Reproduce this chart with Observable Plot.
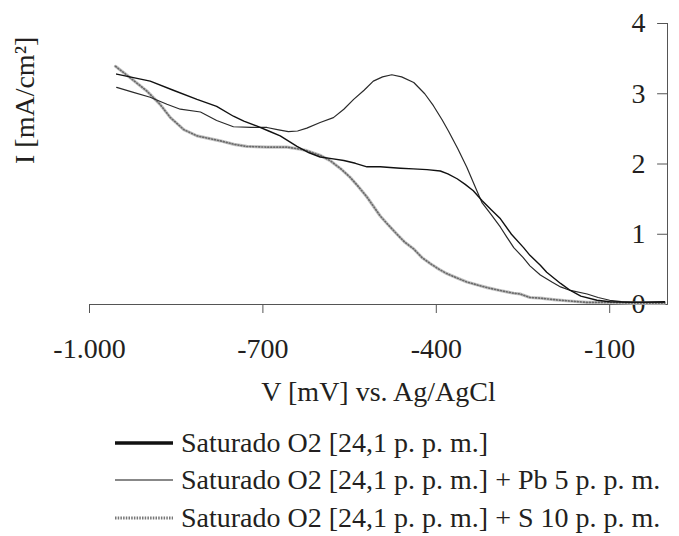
<!DOCTYPE html>
<html>
<head>
<meta charset="utf-8">
<script src="https://cdn.jsdelivr.net/npm/d3@7"></script>
<script src="https://cdn.jsdelivr.net/npm/@observablehq/plot@0.6"></script>
<style>
  body { margin: 0; background: #fff; }
  #chart svg text { font-family: "Liberation Serif", serif !important; font-variant: normal !important; }
  #legend { font-family: "Liberation Serif", serif; font-size: 28px; color: #231f20; margin-top: 14px; padding-left: 115px; }
  .row { display: flex; align-items: center; height: 37.5px; white-space: nowrap; }
  .row svg { margin-right: 8px; }
</style>
</head>
<body>
<div id="chart"></div>
<div id="legend"></div>
<script>
// Series names
const seriesNames = [
  "Saturado O2 [24,1 p. p. m.]",
  "Saturado O2 [24,1 p. p. m.] + Pb 5 p. p. m.",
  "Saturado O2 [24,1 p. p. m.] + S 10 p. p. m."
];

// Series 1: O2 only (plateau curve)
const o2V = [-953,-924,-895,-855,-814,-780,-751,-733,-710,-690,-670,-641,-620,-601,-584,-560,-540,-520,-497,-480,-462,-440,-416,-393,-380,-364,-350,-336,-321,-305,-289,-270,-249,-238,-220,-209,-185,-168,-150,-122,-100,-64,-5];
const o2I = [3.28,3.23,3.18,3.05,2.92,2.82,2.68,2.61,2.54,2.47,2.40,2.25,2.16,2.10,2.08,2.05,2.01,1.96,1.96,1.95,1.94,1.93,1.92,1.90,1.86,1.79,1.71,1.62,1.48,1.35,1.22,1.00,0.81,0.70,0.56,0.46,0.30,0.20,0.12,0.06,0.04,0.03,0.04];

// Series 2: O2 + Pb (peak curve)
const pbV = [-953,-924,-895,-866,-843,-808,-780,-751,-720,-693,-675,-656,-640,-624,-601,-578,-560,-543,-525,-509,-493,-477,-460,-439,-420,-405,-390,-379,-363,-347,-335,-321,-305,-289,-278,-266,-250,-238,-220,-200,-185,-168,-139,-120,-100,-80,-40,-5];
const pbI = [3.09,3.02,2.95,2.85,2.78,2.74,2.62,2.53,2.52,2.52,2.49,2.46,2.47,2.51,2.59,2.66,2.78,2.92,3.05,3.18,3.24,3.27,3.24,3.16,3.00,2.83,2.63,2.47,2.22,1.95,1.72,1.45,1.28,1.10,0.96,0.81,0.67,0.55,0.42,0.32,0.25,0.20,0.15,0.10,0.06,0.04,0.03,0.03];

// Series 3: O2 + S (dotted curve)
const sV = [-955,-930,-901,-878,-860,-845,-837,-814,-774,-750,-728,-693,-658,-635,-624,-600,-584,-565,-549,-535,-520,-497,-485,-468,-455,-439,-425,-410,-395,-382,-365,-347,-330,-312,-290,-266,-255,-238,-220,-197,-170,-139,-100,-60,-5];
const sI = [3.39,3.23,3.04,2.85,2.66,2.55,2.49,2.40,2.33,2.28,2.25,2.24,2.24,2.21,2.19,2.12,2.05,1.93,1.81,1.68,1.53,1.26,1.15,1.00,0.89,0.79,0.67,0.58,0.50,0.44,0.38,0.32,0.28,0.24,0.20,0.16,0.15,0.10,0.09,0.07,0.05,0.03,0.03,0.02,0.02];

const xTicks = [-1000, -700, -400, -100];
const yTicks = [0, 1, 2, 3, 4];
const xLabel = "V [mV] vs. Ag/AgCl";
const yLabel = "I [mA/cm²]";

const toRows = (V, I, s) => V.map((v, i) => ({v, i: I[i], s}));
const o2 = toRows(o2V, o2I, seriesNames[0]);
const pb = toRows(pbV, pbI, seriesNames[1]);
const sd = toRows(sV, sI, seriesNames[2]);

const loc = d3.formatLocale({decimal: ",", thousands: ".", grouping: [3], currency: ["", ""], minus: "-"});
const fmt = loc.format(",d");
const ink = "#231f20";
const serif = "Liberation Serif";
const tickShape = {draw(context, l) { context.moveTo(0, 0); context.lineTo(0, -l); }};

const plot = Plot.plot({
  width: 679,
  height: 410,
  marginLeft: 89,
  marginRight: 12,
  marginTop: 23,
  marginBottom: 106,
  style: {fontFamily: serif, fontSize: "28px", color: ink, background: "#fff"},
  x: {domain: [-1000, 0]},
  y: {domain: [0, 4], axis: null},
  marks: [
    Plot.ruleY([0], {stroke: "#555", strokeWidth: 1}),
    Plot.ruleX([0], {stroke: "#555", strokeWidth: 1}),
    Plot.axisX({ticks: xTicks, tickSize: 9, tickPadding: 25, tickFormat: fmt, label: null, stroke: "#555", fill: ink}),
    Plot.vector(yTicks, {y: d => d, frameAnchor: "right", length: 10, rotate: -90, anchor: "start", shape: tickShape, stroke: "#555", strokeWidth: 1}),
    Plot.text(yTicks, {y: d => d, text: d => String(d), frameAnchor: "right", dx: -22, textAnchor: "end", fill: ink}),
    Plot.line(sd, {x: "v", y: "i", stroke: "#c4c4c4", strokeWidth: 3.2}),
    Plot.line(sd, {x: "v", y: "i", stroke: "#6a6a6a", strokeWidth: 1.6, strokeDasharray: "1,2"}),
    Plot.line(pb, {x: "v", y: "i", stroke: "#2a2a2a", strokeWidth: 1.2}),
    Plot.line(o2, {x: "v", y: "i", stroke: "#111", strokeWidth: 1.4}),
    Plot.text([xLabel], {text: d => d, frameAnchor: "bottom", dy: 88, lineAnchor: "middle", fill: ink}),
    Plot.text([yLabel], {text: d => d, frameAnchor: "left", dx: -64, rotate: -90, fill: ink})
  ]
});
document.getElementById("chart").appendChild(plot);

// Legend
const swatches = [
  {stroke: "#111", width: 3.5, dash: null},
  {stroke: "#888", width: 2, dash: null},
  {stroke: "#777", width: 3, dash: "1.5,1.2"}
];
const legend = document.getElementById("legend");
seriesNames.forEach((name, k) => {
  const row = document.createElement("div");
  row.className = "row";
  const sw = swatches[k];
  row.innerHTML = `<svg width="58" height="10"><line x1="0" x2="58" y1="5" y2="5" stroke="${sw.stroke}" stroke-width="${sw.width}" ${sw.dash ? `stroke-dasharray="${sw.dash}"` : ""}/></svg><span>${name}</span>`;
  legend.appendChild(row);
});
</script>
</body>
</html>
